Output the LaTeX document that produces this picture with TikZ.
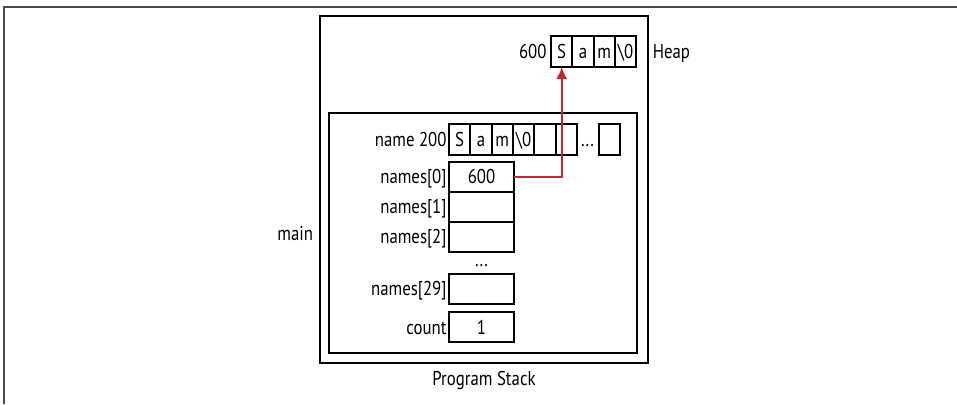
\documentclass[tikz,border=0pt]{standalone}
\usepackage{fontspec}
\setmainfont[FakeStretch=0.84]{PT Sans}
\usetikzlibrary{arrows.meta,positioning}
\definecolor{ptrred}{HTML}{C8262E}

\begin{document}
\begin{tikzpicture}[
    x=1pt, y=-1pt,
    font=\fontsize{20}{24}\selectfont,
    every node/.style={text height=14pt,text depth=0pt},
    frame/.style={draw,line width=2.8pt,inner sep=0pt},
    cell/.style={draw,line width=2pt,inner sep=0pt,outer sep=0pt,minimum width=21.3pt,minimum height=31pt},
    slot/.style={draw,line width=2pt,inner sep=0pt,outer sep=0pt,minimum width=65pt,minimum height=30pt},
    >=Latex]
  \useasboundingbox (0,0) rectangle (957,404);
  \draw[line width=1.5pt,black!70] (4,404) -- (4,7) -- (957,7);

  \node[frame,minimum width=328pt,minimum height=347pt] (stack) at (484,189.5) {};
  \node[frame,minimum width=308pt,minimum height=240pt] (mainframe) at (483,233) {};
  \node[left=11pt of mainframe] (main) {main};
  \node[below=4pt of stack] (stacklabel) {Program Stack};

  % string on the heap
  \node[cell] (hS) at (561.7,51.5) {S};
  \node[cell,right=0pt of hS] (ha) {a};
  \node[cell,right=0pt of ha] (hm) {m};
  \node[cell,right=0pt of hm] (hz) {\textbackslash0};
  \node[left=1pt of hS] (haddr) {600};
  \node[right=13pt of hz] (heap) {Heap};

  % char name[] on the stack
  \node[cell] (n1) at (459.7,139.5) {S};
  \node[cell,right=0pt of n1] (n2) {a};
  \node[cell,right=0pt of n2] (n3) {m};
  \node[cell,right=0pt of n3] (n4) {\textbackslash0};
  \node[cell,right=0pt of n4] (n5) {};
  \node[cell,right=0pt of n5] (n6) {};
  \node[cell] (nlast) at (609.5,139.5) {};
  \node[inner sep=0pt] (ndots) at (587.5,139.5) {...};
  \node[left=-1pt of n1] (nlabel) {name 200};

  % char *names[]
  \node[slot] (s0) at (481.5,176.5) {600};
  \node[slot,below=0pt of s0] (s1) {};
  \node[slot,below=0pt of s1] (s2) {};
  \node[inner sep=0pt] (sdots) at (481.5,259) {...};
  \node[slot] (s29) at (481.5,288.5) {};
  \node[slot] (count) at (481.5,327) {1};
  \node[left=-1pt of s0] (l0) {names[0]};
  \node[left=-1pt of s1] (l1) {names[1]};
  \node[left=-1pt of s2] (l2) {names[2]};
  \node[left=-1pt of s29] (l29) {names[29]};
  \node[left=-1pt of count] (lcount) {count};

  \draw[-{Latex[length=12pt,width=11pt]},ptrred,line width=2pt] (s0.east) -| (hS.south);
\end{tikzpicture}
\end{document}
